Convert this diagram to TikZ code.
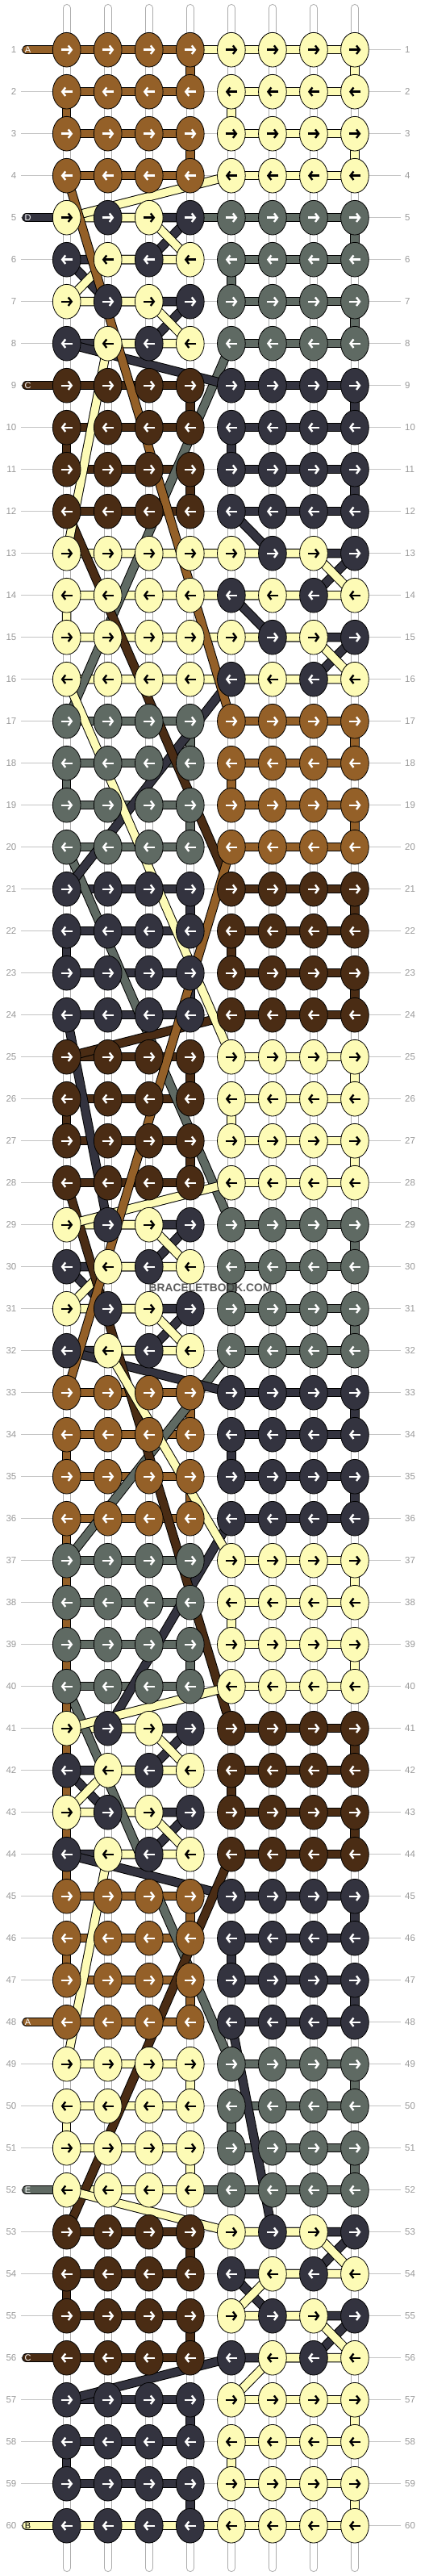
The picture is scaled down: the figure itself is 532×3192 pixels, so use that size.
\documentclass[tikz,border=0pt]{standalone}
\usepackage{fontspec}
\setmainfont{Liberation Sans}
\usetikzlibrary{shapes.geometric, arrows.meta}

\definecolor{colA}{HTML}{946028}
\definecolor{colB}{HTML}{FDFBB6}
\definecolor{colC}{HTML}{4A2C14}
\definecolor{colD}{HTML}{33333F}
\definecolor{colE}{HTML}{5F6A63}
\colorlet{txtA}{white}
\colorlet{txtB}{black}
\colorlet{txtC}{white}
\colorlet{txtD}{white}
\colorlet{txtE}{white}
\definecolor{rowgray}{HTML}{999999}
\definecolor{guidegray}{HTML}{C4C4C4}

\pgfdeclarelayer{warps}
\pgfdeclarelayer{bars}
\pgfdeclarelayer{links}
\pgfsetlayers{warps,bars,links,main}

\tikzset{
  knot/.style={ellipse, draw=black, line width=0.8pt, fill=col#1, minimum width=34.7pt, minimum height=42.7pt, inner sep=0pt},
  thread/.style={draw=black, line width=1pt, double=col#1, double distance=9.5pt, line join=round},
  stub/.style={thread=#1, line cap=round},
  warp/.style={draw=gray!65, line width=1pt, double=white, double distance=8pt, line cap=round},
  arrowline/.style={line width=2.4pt, -{Straight Barb[length=4pt, width=10.5pt]}},
  guide/.style={draw=guidegray, line width=1pt},
  rownum/.style={text=rowgray, inner sep=0pt, font=\fontsize{11.5}{12}\selectfont},
  lab/.style={inner sep=0pt, font=\fontsize{11}{11}\selectfont}
}

\begin{document}
\begin{tikzpicture}[x=1pt, y=-1pt]
\useasboundingbox (0,0) rectangle (532,3192);

% knots, block by block (X = cream/navy checker)
\foreach \blk/\lt/\rt in {1/A/B, 2/X/E, 3/C/D, 4/B/X, 5/E/A, 6/D/C, 7/C/B, 8/X/E,
                          9/A/D, 10/E/B, 11/X/C, 12/A/D, 13/B/E, 14/C/X, 15/D/B}{
  \foreach \ii in {0,1,2,3}{
    \pgfmathtruncatemacro\row{4*\blk-3+\ii}
    \foreach \col in {1,...,8}{
      \ifnum\col<5 \edef\kc{\lt}\else\edef\kc{\rt}\fi
      \if X\kc
        \ifodd\numexpr\row+\col\relax \def\kc{D}\else\def\kc{B}\fi
      \fi
      \node[knot=\kc] (k-\row-\col) at ({82.7+51.04*(\col-1)}, {61.7+52*(\row-1)}) {};
      \ifodd\row
        \draw[arrowline, draw=txt\kc] (k-\row-\col.center) ++(-7,0) -- ++(14.5,0);
      \else
        \draw[arrowline, draw=txt\kc] (k-\row-\col.center) ++(7.5,0) -- ++(-14.5,0);
      \fi
    }
  }
}

% row numbers
\foreach \row in {1,...,60}{
  \node[rownum, anchor=east] (nl-\row) at (20.5, {61.7+52*(\row-1)}) {\row};
  \node[rownum, anchor=west] (nr-\row) at (502, {61.7+52*(\row-1)}) {\row};
  \begin{pgfonlayer}{warps}
    \draw[guide, shorten <=5.5pt, shorten >=5pt] (nl-\row) -- (nr-\row);
  \end{pgfonlayer}
}

% warp threads
\foreach \col in {1,...,8}{
  \coordinate (wt-\col) at ({82.7+51.04*(\col-1)}, 10);
  \coordinate (wb-\col) at ({82.7+51.04*(\col-1)}, 3182);
}
\begin{pgfonlayer}{warps}
  \foreach \col in {1,...,8} \draw[warp] (wt-\col) -- (wb-\col);
\end{pgfonlayer}

% thread ends on the left
\coordinate (sA1) at (33, 61.7);
\coordinate (sD5) at (33, 269.7);
\coordinate (sC9) at (33, 477.7);
\coordinate (sA48) at (33, 2505.7);
\coordinate (sE52) at (33, 2713.7);
\coordinate (sC56) at (33, 2921.7);
\coordinate (sB60) at (33, 3129.7);

\begin{pgfonlayer}{bars}
  \draw[thread=B] (k-1-1.center) -- (k-1-5.center);
  \draw[thread=E] (k-5-1.center) -- (k-5-5.center);
  \draw[stub=E] (k-52-5.center) -- (sE52);
  \draw[stub=A] (sA1) -- (k-1-1.center);
  \draw[stub=D] (sD5) -- (k-5-2.center);
  \draw[stub=C] (sC9) -- (k-9-1.center);
  \draw[stub=A] (k-48-1.center) -- (sA48);
  \draw[stub=C] (k-56-1.center) -- (sC56);
  % rows of each block
  \foreach \blk/\lt/\rt in {1/A/B, 2/X/E, 3/C/D, 4/B/X, 5/E/A, 6/D/C, 7/C/B, 8/X/E,
                            9/A/D, 10/E/B, 11/X/C, 12/A/D, 13/B/E, 14/C/X, 15/D/B}{
    \pgfmathtruncatemacro\ra{4*\blk-3}
    \pgfmathtruncatemacro\rb{4*\blk-2}
    \pgfmathtruncatemacro\rc{4*\blk-1}
    \pgfmathtruncatemacro\rd{4*\blk}
    \if X\lt
      \draw[thread=D] (k-\ra-2.center) -- (k-\ra-4.center) -- (k-\rb-3.center) -- (k-\rb-1.center)
        -- (k-\rc-2.center) -- (k-\rc-4.center) -- (k-\rd-3.center) -- (k-\rd-1.center);
      \draw[thread=B] (k-\ra-1.center) -- (k-\ra-3.center) -- (k-\rb-4.center) -- (k-\rb-2.center)
        -- (k-\rc-1.center) -- (k-\rc-3.center) -- (k-\rd-4.center) -- (k-\rd-2.center);
    \else\ifnum\blk=4\else
      \draw[thread=\lt] (k-\ra-1.center) -- (k-\ra-4.center) -- (k-\rb-4.center) -- (k-\rb-1.center)
        -- (k-\rc-1.center) -- (k-\rc-4.center) -- (k-\rd-4.center) -- (k-\rd-1.center);
    \fi\fi
    \if X\rt
      \draw[thread=D] (k-\ra-6.center) -- (k-\ra-8.center) -- (k-\rb-7.center) -- (k-\rb-5.center)
        -- (k-\rc-6.center) -- (k-\rc-8.center) -- (k-\rd-7.center) -- (k-\rd-5.center);
      \ifnum\blk=4
        \draw[thread=B] (k-\ra-1.center) -- (k-\ra-7.center) -- (k-\rb-8.center) -- (k-\rb-1.center)
          -- (k-\rc-1.center) -- (k-\rc-7.center) -- (k-\rd-8.center) -- (k-\rd-1.center);
      \else
        \draw[thread=B] (k-\ra-5.center) -- (k-\ra-7.center) -- (k-\rb-8.center) -- (k-\rb-6.center)
          -- (k-\rc-5.center) -- (k-\rc-7.center) -- (k-\rd-8.center) -- (k-\rd-6.center);
      \fi
    \else
      \draw[thread=\rt] (k-\ra-5.center) -- (k-\ra-8.center) -- (k-\rb-8.center) -- (k-\rb-5.center)
        -- (k-\rc-5.center) -- (k-\rc-8.center) -- (k-\rd-8.center) -- (k-\rd-5.center);
    \fi
  }
  \draw[stub=B] (k-60-5.center) -- (sB60);
\end{pgfonlayer}

% threads carried from one block to the next
\begin{pgfonlayer}{links}
  \foreach \clr/\ra/\ca/\rb/\cb in {
      E/8/5/17/1, E/20/1/29/5, E/32/5/37/1, E/40/1/49/5,
      D/8/1/9/5, D/12/5/13/6, D/16/5/21/1, D/24/1/29/2, D/32/1/33/5,
      D/36/5/41/2, D/44/1/45/5, D/48/5/53/6, D/56/5/57/1,
      C/12/1/21/5, C/24/5/25/1, C/28/1/41/5, C/44/5/53/1,
      B/4/5/5/1, B/8/2/13/1, B/16/1/25/5, B/28/5/29/1, B/32/2/37/5,
      B/40/5/41/1, B/44/2/49/1, B/52/1/53/5, B/56/6/57/5,
      A/4/1/17/5, A/20/5/33/1, A/36/1/45/1}
    \draw[thread=\clr] (k-\ra-\ca.center) -- (k-\rb-\cb.center);
\end{pgfonlayer}

% letters of the thread ends
\node[lab, text=white] (tA1) at ([xshift=1.5pt]sA1) {A};
\node[lab, text=white] (tD5) at ([xshift=1.5pt]sD5) {D};
\node[lab, text=white] (tC9) at ([xshift=1.5pt]sC9) {C};
\node[lab, text=white] (tA48) at ([xshift=1.5pt]sA48) {A};
\node[lab, text=white] (tE52) at ([xshift=1.5pt]sE52) {E};
\node[lab, text=white] (tC56) at ([xshift=1.5pt]sC56) {C};
\node[lab, text=black] (tB60) at ([xshift=1.5pt]sB60) {B};

\node[font=\bfseries\fontsize{13.8}{14}\selectfont, text=black!75, text opacity=0.85] (wm) at (261,1596) {BRACELETBOOK.COM};

\end{tikzpicture}
\end{document}
